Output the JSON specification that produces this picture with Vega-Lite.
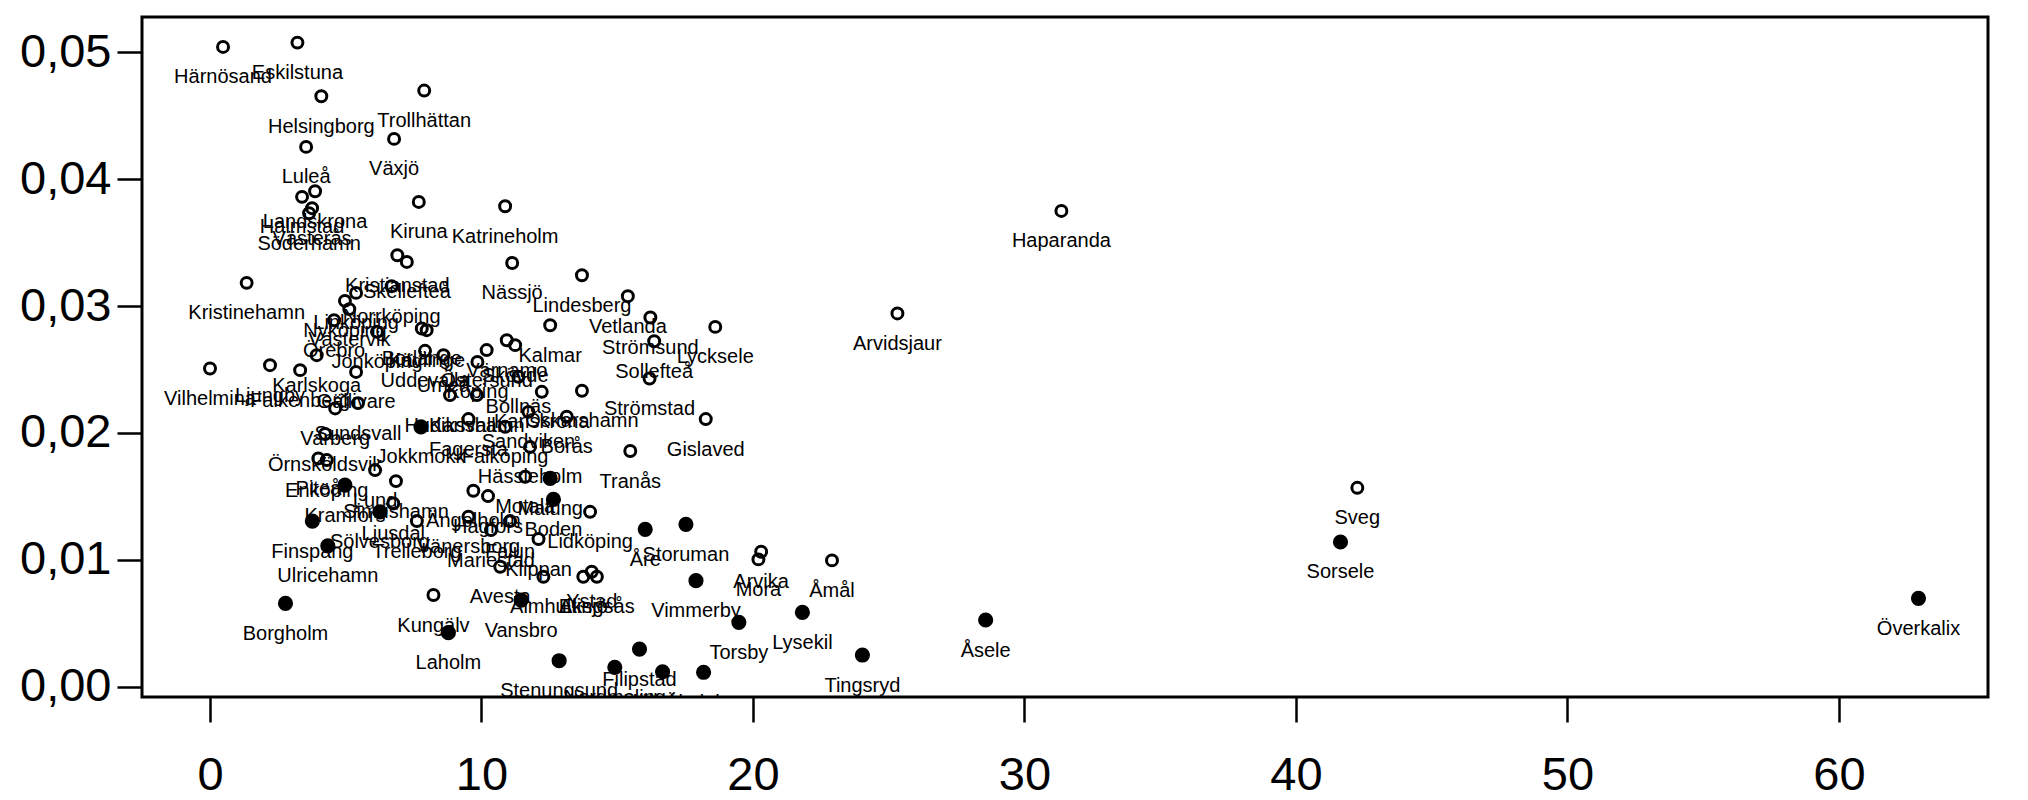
{
  "$schema": "https://vega.github.io/schema/vega-lite/v6.json",
  "width": 1846,
  "height": 680,
  "autosize": {"type": "none"},
  "padding": {"left": 142, "top": 17, "right": 40, "bottom": 103},
  "background": "white",
  "config": {
    "view": {"stroke": "black", "strokeWidth": 3},
    "font": "Liberation Sans"
  },
  "data": {
    "values": [
      {"kommun": "Härnösand", "x": 0.48, "y": 0.05043, "typ": "öppen"},
      {"kommun": "Eskilstuna", "x": 3.22, "y": 0.05077, "typ": "öppen"},
      {"kommun": "Helsingborg", "x": 4.10, "y": 0.04654, "typ": "öppen"},
      {"kommun": "Trollhättan", "x": 7.89, "y": 0.04699, "typ": "öppen"},
      {"kommun": "Växjö", "x": 6.78, "y": 0.04318, "typ": "öppen"},
      {"kommun": "Luleå", "x": 3.54, "y": 0.04255, "typ": "öppen"},
      {"kommun": "Landskrona", "x": 3.87, "y": 0.03905, "typ": "öppen"},
      {"kommun": "Halmstad", "x": 3.39, "y": 0.03861, "typ": "öppen"},
      {"kommun": "Västerås", "x": 3.76, "y": 0.03772, "typ": "öppen"},
      {"kommun": "Söderhamn", "x": 3.65, "y": 0.03732, "typ": "öppen"},
      {"kommun": "Kiruna", "x": 7.69, "y": 0.03821, "typ": "öppen"},
      {"kommun": "Katrineholm", "x": 10.87, "y": 0.03787, "typ": "öppen"},
      {"kommun": "Kristianstad", "x": 6.90, "y": 0.03401, "typ": "öppen"},
      {"kommun": "Skellefteå", "x": 7.25, "y": 0.03348, "typ": "öppen"},
      {"kommun": "Nässjö", "x": 11.13, "y": 0.03340, "typ": "öppen"},
      {"kommun": "Kristinehamn", "x": 1.35, "y": 0.03183, "typ": "öppen"},
      {"kommun": "Lindesberg", "x": 13.70, "y": 0.03243, "typ": "öppen"},
      {"kommun": "Norrköping", "x": 6.69, "y": 0.03157, "typ": "öppen"},
      {"kommun": "Linköping", "x": 5.38, "y": 0.03104, "typ": "öppen"},
      {"kommun": "Nyköping", "x": 4.97, "y": 0.03041, "typ": "öppen"},
      {"kommun": "Västervik", "x": 5.13, "y": 0.02976, "typ": "öppen"},
      {"kommun": "Vetlanda", "x": 15.39, "y": 0.03078, "typ": "öppen"},
      {"kommun": "Strömsund", "x": 16.22, "y": 0.02910, "typ": "öppen"},
      {"kommun": "Lycksele", "x": 18.61, "y": 0.02836, "typ": "öppen"},
      {"kommun": "Sollefteå", "x": 16.36, "y": 0.02723, "typ": "öppen"},
      {"kommun": "Örebro", "x": 4.57, "y": 0.02889, "typ": "öppen"},
      {"kommun": "Jönköping", "x": 6.15, "y": 0.02797, "typ": "öppen"},
      {"kommun": "Borlänge", "x": 7.80, "y": 0.02823, "typ": "öppen"},
      {"kommun": "Kävlinge", "x": 7.98, "y": 0.02810, "typ": "öppen"},
      {"kommun": "Kalmar", "x": 12.53, "y": 0.02849, "typ": "öppen"},
      {"kommun": "Värnamo", "x": 10.93, "y": 0.02731, "typ": "öppen"},
      {"kommun": "Skövde", "x": 11.24, "y": 0.02692, "typ": "öppen"},
      {"kommun": "Östersund", "x": 10.19, "y": 0.02653, "typ": "öppen"},
      {"kommun": "Uddevalla", "x": 7.92, "y": 0.02647, "typ": "öppen"},
      {"kommun": "Umeå", "x": 8.60, "y": 0.02613, "typ": "öppen"},
      {"kommun": "Köping", "x": 9.85, "y": 0.02560, "typ": "öppen"},
      {"kommun": "Karlskoga", "x": 3.93, "y": 0.02613, "typ": "öppen"},
      {"kommun": "Vilhelmina", "x": 0.0, "y": 0.02508, "typ": "öppen"},
      {"kommun": "Ljungby", "x": 2.21, "y": 0.02534, "typ": "öppen"},
      {"kommun": "Falkenberg", "x": 3.32, "y": 0.02495, "typ": "öppen"},
      {"kommun": "Gällivare", "x": 5.38, "y": 0.02481, "typ": "öppen"},
      {"kommun": "Bollnäs", "x": 11.36, "y": 0.02442, "typ": "öppen"},
      {"kommun": "Strömstad", "x": 16.19, "y": 0.02429, "typ": "öppen"},
      {"kommun": "Karlskrona", "x": 12.22, "y": 0.02324, "typ": "öppen"},
      {"kommun": "Oskarshamn", "x": 13.70, "y": 0.02332, "typ": "öppen"},
      {"kommun": "Hudiksvall", "x": 8.84, "y": 0.02298, "typ": "öppen"},
      {"kommun": "Karlshamn", "x": 9.83, "y": 0.02298, "typ": "öppen"},
      {"kommun": "Sundsvall", "x": 5.45, "y": 0.02235, "typ": "öppen"},
      {"kommun": "Varberg", "x": 4.61, "y": 0.02193, "typ": "öppen"},
      {"kommun": "Sandviken", "x": 11.73, "y": 0.02166, "typ": "öppen"},
      {"kommun": "Borås", "x": 13.14, "y": 0.02127, "typ": "öppen"},
      {"kommun": "Gislaved", "x": 18.26, "y": 0.02109, "typ": "öppen"},
      {"kommun": "Fagersta", "x": 9.52, "y": 0.02109, "typ": "öppen"},
      {"kommun": "Falköping", "x": 10.87, "y": 0.02048, "typ": "öppen"},
      {"kommun": "Jokkmokk", "x": 7.77, "y": 0.02048, "typ": "fylld"},
      {"kommun": "Örnsköldsvik", "x": 4.24, "y": 0.01991, "typ": "öppen"},
      {"kommun": "Hässleholm", "x": 11.79, "y": 0.01890, "typ": "öppen"},
      {"kommun": "Tranås", "x": 15.48, "y": 0.01857, "typ": "öppen"},
      {"kommun": "Piteå", "x": 3.99, "y": 0.01799, "typ": "öppen"},
      {"kommun": "Enköping", "x": 4.30, "y": 0.01786, "typ": "öppen"},
      {"kommun": "Lund", "x": 6.08, "y": 0.01707, "typ": "öppen"},
      {"kommun": "Motala", "x": 11.61, "y": 0.01654, "typ": "öppen"},
      {"kommun": "Malung", "x": 12.53, "y": 0.01641, "typ": "fylld"},
      {"kommun": "Simrishamn", "x": 6.85, "y": 0.01620, "typ": "öppen"},
      {"kommun": "Kramfors", "x": 4.97, "y": 0.01589, "typ": "fylld"},
      {"kommun": "Ängelholm", "x": 9.70, "y": 0.01544, "typ": "öppen"},
      {"kommun": "Hagfors", "x": 10.24, "y": 0.01502, "typ": "öppen"},
      {"kommun": "Boden", "x": 12.65, "y": 0.01476, "typ": "fylld"},
      {"kommun": "Ljusdal", "x": 6.75, "y": 0.01444, "typ": "öppen"},
      {"kommun": "Sölvesborg", "x": 6.26, "y": 0.01378, "typ": "fylld"},
      {"kommun": "Lidköping", "x": 14.00, "y": 0.01378, "typ": "öppen"},
      {"kommun": "Finspång", "x": 3.77, "y": 0.01305, "typ": "fylld"},
      {"kommun": "Trelleborg", "x": 7.62, "y": 0.01305, "typ": "öppen"},
      {"kommun": "Falun", "x": 11.05, "y": 0.01305, "typ": "öppen"},
      {"kommun": "Vänersborg", "x": 9.52, "y": 0.01339, "typ": "öppen"},
      {"kommun": "Mariestad", "x": 10.35, "y": 0.01234, "typ": "öppen"},
      {"kommun": "Åre", "x": 16.03, "y": 0.01240, "typ": "fylld"},
      {"kommun": "Storuman", "x": 17.53, "y": 0.01279, "typ": "fylld"},
      {"kommun": "Klippan", "x": 12.10, "y": 0.01163, "typ": "öppen"},
      {"kommun": "Ulricehamn", "x": 4.34, "y": 0.01110, "typ": "fylld"},
      {"kommun": "Arvika", "x": 20.30, "y": 0.01063, "typ": "öppen"},
      {"kommun": "Mora", "x": 20.20, "y": 0.01003, "typ": "öppen"},
      {"kommun": "Åmål", "x": 22.91, "y": 0.00995, "typ": "öppen"},
      {"kommun": "Avesta", "x": 10.69, "y": 0.00945, "typ": "öppen"},
      {"kommun": "Älmhult", "x": 12.28, "y": 0.00866, "typ": "öppen"},
      {"kommun": "Eksjö", "x": 13.75, "y": 0.00866, "typ": "öppen"},
      {"kommun": "Ystad", "x": 14.06, "y": 0.00905, "typ": "öppen"},
      {"kommun": "Alingsås", "x": 14.25, "y": 0.00866, "typ": "öppen"},
      {"kommun": "Vimmerby", "x": 17.90, "y": 0.00835, "typ": "fylld"},
      {"kommun": "Kungälv", "x": 8.23, "y": 0.00722, "typ": "öppen"},
      {"kommun": "Borgholm", "x": 2.78, "y": 0.00656, "typ": "fylld"},
      {"kommun": "Vansbro", "x": 11.46, "y": 0.00682, "typ": "fylld"},
      {"kommun": "Lysekil", "x": 21.82, "y": 0.00585, "typ": "fylld"},
      {"kommun": "Torsby", "x": 19.48, "y": 0.00507, "typ": "fylld"},
      {"kommun": "Åsele", "x": 28.57, "y": 0.00525, "typ": "fylld"},
      {"kommun": "Laholm", "x": 8.78, "y": 0.00425, "typ": "fylld"},
      {"kommun": "Filipstad", "x": 15.82, "y": 0.00296, "typ": "fylld"},
      {"kommun": "Tingsryd", "x": 24.03, "y": 0.00249, "typ": "fylld"},
      {"kommun": "Stenungsund", "x": 12.86, "y": 0.00204, "typ": "fylld"},
      {"kommun": "Nordmaling", "x": 14.91, "y": 0.00152, "typ": "fylld"},
      {"kommun": "Hällefors", "x": 16.67, "y": 0.00117, "typ": "fylld"},
      {"kommun": "Älvdalen", "x": 18.18, "y": 0.00113, "typ": "fylld"},
      {"kommun": "Haparanda", "x": 31.36, "y": 0.03750, "typ": "öppen"},
      {"kommun": "Arvidsjaur", "x": 25.32, "y": 0.02942, "typ": "öppen"},
      {"kommun": "Sveg", "x": 42.26, "y": 0.01567, "typ": "öppen"},
      {"kommun": "Sorsele", "x": 41.64, "y": 0.01140, "typ": "fylld"},
      {"kommun": "Överkalix", "x": 62.93, "y": 0.00696, "typ": "fylld"}
    ]
  },
  "encoding": {
    "x": {
      "field": "x",
      "type": "quantitative",
      "scale": {"domain": [-2.505, 65.49], "nice": false, "zero": false},
      "axis": {
        "title": null,
        "values": [0, 10, 20, 30, 40, 50, 60],
        "domain": false,
        "grid": false,
        "ticks": true,
        "tickSize": 25,
        "tickWidth": 2.5,
        "tickColor": "black",
        "labelFontSize": 47,
        "labelColor": "black",
        "labelFont": "Liberation Sans",
        "labelPadding": 30,
        "labelFlush": false,
        "labelOverlap": false
      }
    },
    "y": {
      "field": "y",
      "type": "quantitative",
      "scale": {"domain": [-0.00082, 0.05279], "nice": false, "zero": false},
      "axis": {
        "title": null,
        "values": [0, 0.01, 0.02, 0.03, 0.04, 0.05],
        "labelExpr": "replace(format(datum.value, '.2f'), '.', ',')",
        "domain": false,
        "grid": false,
        "tickSize": 25,
        "tickWidth": 2.5,
        "tickColor": "black",
        "labelFontSize": 47,
        "labelColor": "black",
        "labelFont": "Liberation Sans",
        "labelPadding": 6,
        "labelBaseline": "middle",
        "labelFlush": false,
        "labelOverlap": false
      }
    }
  },
  "layer": [
    {
      "transform": [{"filter": "datum.typ == 'öppen'"}],
      "mark": {"type": "point", "shape": "circle", "filled": false, "stroke": "black", "strokeWidth": 3, "size": 120, "opacity": 1, "clip": true}
    },
    {
      "transform": [{"filter": "datum.typ == 'fylld'"}],
      "mark": {"type": "circle", "color": "black", "size": 230, "opacity": 1, "clip": true}
    },
    {
      "mark": {"type": "text", "dy": 36.5, "baseline": "alphabetic", "align": "center", "fontSize": 20, "font": "Liberation Sans", "color": "black", "clip": true},
      "encoding": {"text": {"field": "kommun", "type": "nominal"}}
    }
  ]
}
